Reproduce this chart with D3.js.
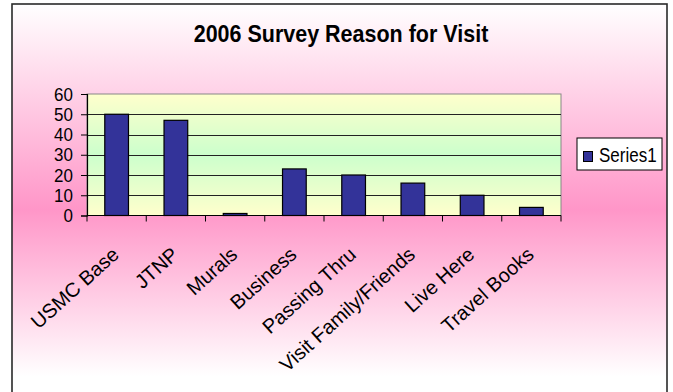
<!DOCTYPE html>
<html>
<head>
<meta charset="utf-8">
<script src="https://cdn.jsdelivr.net/npm/d3@7"></script>
<style>
  html, body { margin: 0; padding: 0; background: #ffffff; }
  svg { display: block; }
  text { font-family: "Liberation Sans", Arial, sans-serif; fill: #000; }
</style>
</head>
<body>
<svg id="chart" width="673" height="392"></svg>
<script>
// Survey responses: reason for visit
const categories = ["USMC Base", "JTNP", "Murals", "Business", "Passing Thru",
                    "Visit Family/Friends", "Live Here", "Travel Books"];
const series1 = [50, 47, 1, 23, 20, 16, 10, 4];
const yTicks = [0, 10, 20, 30, 40, 50, 60];
const seriesName = "Series1";
const chartTitle = "2006 Survey Reason for Visit";

const svg = d3.select("#chart");
const defs = svg.append("defs");

// Chart-area background: white -> rose -> white, top to bottom
const bg = defs.append("linearGradient").attr("id", "bgGrad")
  .attr("gradientUnits", "userSpaceOnUse")
  .attr("x1", 0).attr("y1", 4).attr("x2", 0).attr("y2", 392);
bg.append("stop").attr("offset", "0%").attr("stop-color", "#ffffff");
bg.append("stop").attr("offset", "53%").attr("stop-color", "#ff96c8");
bg.append("stop").attr("offset", "96%").attr("stop-color", "#ffffff");

// Plot-area background: light yellow -> light green -> light yellow
const pg = defs.append("linearGradient").attr("id", "plotGrad")
  .attr("x1", 0).attr("y1", 0).attr("x2", 0).attr("y2", 1);
pg.append("stop").attr("offset", "0%").attr("stop-color", "#ffffcc");
pg.append("stop").attr("offset", "50%").attr("stop-color", "#ccffcc");
pg.append("stop").attr("offset", "100%").attr("stop-color", "#ffffcc");

// Outer chart frame
svg.append("rect")
  .attr("x", 12).attr("y", 4).attr("width", 655).attr("height", 400)
  .attr("fill", "url(#bgGrad)")
  .attr("stroke", "#2a2a2a").attr("stroke-width", 1.6);

// Title
svg.append("text")
  .attr("transform", "translate(341,42) scale(1,1.12)")
  .attr("text-anchor", "middle")
  .style("font-weight", "bold")
  .style("font-size", "21.5px")
  .text(chartTitle);

// Plot geometry
const plot = { left: 87, top: 94, right: 561, bottom: 215.5 };

const x = d3.scaleBand()
  .domain(categories)
  .range([plot.left, plot.right])
  .paddingInner(0).paddingOuter(0);

const y = d3.scaleLinear()
  .domain([0, 60])
  .range([plot.bottom, plot.top]);

// Plot background
svg.append("rect")
  .attr("x", plot.left).attr("y", plot.top)
  .attr("width", plot.right - plot.left).attr("height", plot.bottom - plot.top)
  .attr("fill", "url(#plotGrad)")
  .attr("stroke", "#888888").attr("stroke-width", 1);

// Horizontal gridlines
svg.append("g")
  .selectAll("line")
  .data(yTicks.filter(t => t > 0 && t < 60))
  .join("line")
  .attr("x1", plot.left).attr("x2", plot.right)
  .attr("y1", d => Math.round(y(d)) + 0.5).attr("y2", d => Math.round(y(d)) + 0.5)
  .attr("stroke", "#222222").attr("stroke-width", 1);

// Bars (bar width = band / 2.5, i.e. 150% gap)
const barW = x.bandwidth() / 2.5;
svg.append("g")
  .selectAll("rect")
  .data(series1)
  .join("rect")
  .attr("x", (d, i) => x(categories[i]) + (x.bandwidth() - barW) / 2)
  .attr("y", d => y(d))
  .attr("width", barW)
  .attr("height", d => y(0) - y(d))
  .attr("fill", "#333399")
  .attr("stroke", "#000000").attr("stroke-width", 1.2);

// Y axis
const yAxis = d3.axisLeft(y)
  .tickValues(yTicks)
  .tickSize(6)
  .tickPadding(8)
  .tickFormat(d3.format("d"));
const gy = svg.append("g")
  .attr("transform", `translate(${plot.left},0)`)
  .call(yAxis);
gy.select(".domain").attr("stroke", "#000").attr("stroke-width", 1.2);
gy.selectAll(".tick line").attr("stroke", "#000");
gy.selectAll(".tick text")
  .attr("dy", null)
  .attr("transform", "translate(0,6) scale(1,1.12)")
  .style("font-size", "17px")
  .style("font-family", "'Liberation Sans', Arial, sans-serif")
  .attr("fill", "#000");

// X axis: line plus ticks at category boundaries
const gx = svg.append("g");
gx.append("line")
  .attr("x1", plot.left).attr("x2", plot.right)
  .attr("y1", plot.bottom).attr("y2", plot.bottom)
  .attr("stroke", "#000").attr("stroke-width", 1.2);
const boundaries = categories.map(c => x(c)).concat([plot.right]);
gx.selectAll("line.tick")
  .data(boundaries)
  .join("line")
  .attr("class", "tick")
  .attr("x1", d => d).attr("x2", d => d)
  .attr("y1", plot.bottom).attr("y2", plot.bottom + 6)
  .attr("stroke", "#000").attr("stroke-width", 1);

// Rotated category labels
gx.selectAll("text")
  .data(categories)
  .join("text")
  .attr("transform", d => `translate(${x(d) + x.bandwidth() / 2 - 1},${plot.bottom + 35.5}) rotate(-42)`)
  .attr("text-anchor", "end")
  .attr("dy", "0.35em")
  .style("font-size", "20px")
  .text(d => d);

// Legend
const lg = svg.append("g");
lg.append("rect")
  .attr("x", 577).attr("y", 138).attr("width", 85).attr("height", 32)
  .attr("fill", "#ffffff").attr("stroke", "#000").attr("stroke-width", 1);
lg.append("rect")
  .attr("x", 583.5).attr("y", 151.5).attr("width", 9).attr("height", 10)
  .attr("fill", "#333399").attr("stroke", "#000").attr("stroke-width", 1);
lg.append("text")
  .attr("transform", "translate(599,161.5) scale(1,1.15)")
  .style("font-size", "17px")
  .text(seriesName);
</script>
</body>
</html>
